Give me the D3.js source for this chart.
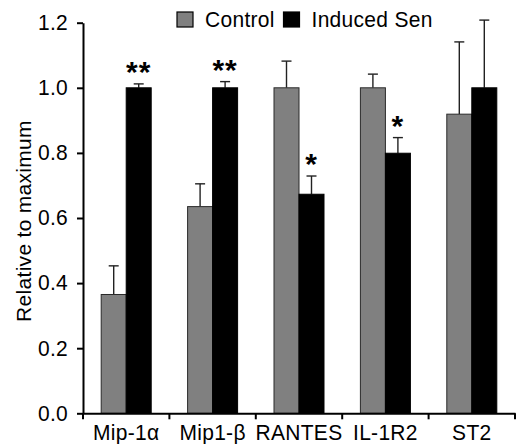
<!DOCTYPE html>
<html>
<head>
<meta charset="utf-8">
<script src="https://cdn.jsdelivr.net/npm/d3@7"></script>
<style>
  html, body { margin: 0; padding: 0; background: #fff; }
  svg { display: block; }
  text { font-family: "Liberation Sans", Arial, sans-serif; }
</style>
</head>
<body>
<svg id="chart" width="525" height="444"></svg>
<script>
const categories = ["Mip-1\u03b1", "Mip1-\u03b2", "RANTES", "IL-1R2", "ST2"];
const seriesNames = ["Control", "Induced Sen"];
const controlValues = [0.365, 0.635, 1.0, 1.0, 0.919];
const controlErrors = [0.088, 0.070, 0.082, 0.042, 0.222];
const inducedValues = [1.0, 1.0, 0.673, 0.799, 1.0];
const inducedErrors = [0.012, 0.019, 0.056, 0.048, 0.208];
const significance = ["**", "**", "*", "*", ""];
const yTicks = [0.0, 0.2, 0.4, 0.6, 0.8, 1.0, 1.2];
const yLabel = "Relative to maximum";

const colors = { "Control": "#808080", "Induced Sen": "#000000" };

const svg = d3.select("#chart");
const FONT = 21, LS = "0.3px", SY = 1.08;

const x = d3.scaleBand().domain(categories).range([83, 515]).padding(0);
const y = d3.scaleLinear().domain([0, 1.2]).range([413.3, 22.7]);
const sub = d3.scaleBand().domain(seriesNames)
  .range([x.bandwidth() / 2 - 25, x.bandwidth() / 2 + 25]).padding(0);

const rows = categories.map((c, i) => ({
  cat: c,
  sig: significance[i],
  series: [
    { name: "Control", v: controlValues[i], e: controlErrors[i] },
    { name: "Induced Sen", v: inducedValues[i], e: inducedErrors[i] }
  ]
}));

const groups = svg.append("g").selectAll("g").data(rows).join("g")
  .attr("transform", d => `translate(${x(d.cat)},0)`);

// error bars
groups.selectAll("g.err").data(d => d.series).join("g").attr("class", "err")
  .each(function(d) {
    const g = d3.select(this);
    const cx = sub(d.name) + sub.bandwidth() / 2;
    g.append("line").attr("x1", cx).attr("x2", cx)
      .attr("y1", y(d.v)).attr("y2", y(d.v + d.e))
      .attr("stroke", "#222").attr("stroke-width", 1.4);
    g.append("line").attr("x1", cx - 5).attr("x2", cx + 5)
      .attr("y1", y(d.v + d.e)).attr("y2", y(d.v + d.e))
      .attr("stroke", "#222").attr("stroke-width", 1.4);
  });

groups.selectAll("rect").data(d => d.series).join("rect")
  .attr("x", d => sub(d.name))
  .attr("width", sub.bandwidth())
  .attr("y", d => y(d.v))
  .attr("height", d => y(0) - y(d.v))
  .attr("fill", d => colors[d.name])
  .attr("stroke", d => d.name === "Control" ? "#2a2a2a" : "#000")
  .attr("stroke-width", 1);

// significance stars
groups.append("text")
  .attr("x", sub("Induced Sen") + sub.bandwidth() / 2)
  .attr("y", d => y(d.series[1].v + d.series[1].e) - 2)
  .attr("text-anchor", "middle")
  .attr("font-size", 30).attr("font-weight", "bold")
  .attr("letter-spacing", "1px")
  .text(d => d.sig);

// y axis
const yAxis = svg.append("g").attr("transform", `translate(${x.range()[0]},0)`)
  .call(d3.axisLeft(y).tickValues(yTicks).tickFormat(d3.format(".1f"))
    .tickSize(6).tickSizeOuter(0).tickPadding(9));
yAxis.select(".domain").attr("stroke-width", 2);
yAxis.selectAll(".tick line").attr("stroke-width", 2);
yAxis.selectAll("text").attr("font-size", FONT).attr("letter-spacing", LS)
  .attr("font-family", "Liberation Sans, Arial, sans-serif").attr("fill", "#000")
  .attr("dy", "0.3em").attr("transform", `scale(1,${SY})`);

// x axis
const xAxis = svg.append("g").attr("transform", `translate(0,${y(0)})`)
  .call(d3.axisBottom(x).tickSize(0).tickSizeOuter(0).tickPadding(9.8));
xAxis.select(".domain").attr("stroke-width", 2);
xAxis.selectAll("text").attr("font-size", FONT).attr("letter-spacing", LS)
  .attr("font-family", "Liberation Sans, Arial, sans-serif").attr("fill", "#000")
  .attr("transform", `scale(1,${SY})`);
const bounds = categories.map(c => x(c)).concat([x.range()[1]]);
xAxis.selectAll("line.bound").data(bounds).join("line").attr("class", "bound")
  .attr("x1", d => d).attr("x2", d => d).attr("y1", 0).attr("y2", 6)
  .attr("stroke", "#000").attr("stroke-width", 2);

// y label
svg.append("text")
  .attr("transform", "translate(30.7,221) rotate(-90)")
  .attr("text-anchor", "middle")
  .attr("font-size", FONT).attr("letter-spacing", LS)
  .text(yLabel);

// legend
const legendX = [177, 283.5];
const legend = svg.append("g").selectAll("g").data(seriesNames).join("g")
  .attr("transform", (d, i) => `translate(${legendX[i]},12)`);
legend.append("rect").attr("width", 16).attr("height", 15)
  .attr("fill", d => colors[d]).attr("stroke", "#000").attr("stroke-width", 1.2);
legend.append("text").attr("x", 28).attr("y", 15.3 / SY)
  .attr("transform", `scale(1,${SY})`)
  .attr("font-size", FONT).attr("letter-spacing", LS).text(d => d);
</script>
</body>
</html>
